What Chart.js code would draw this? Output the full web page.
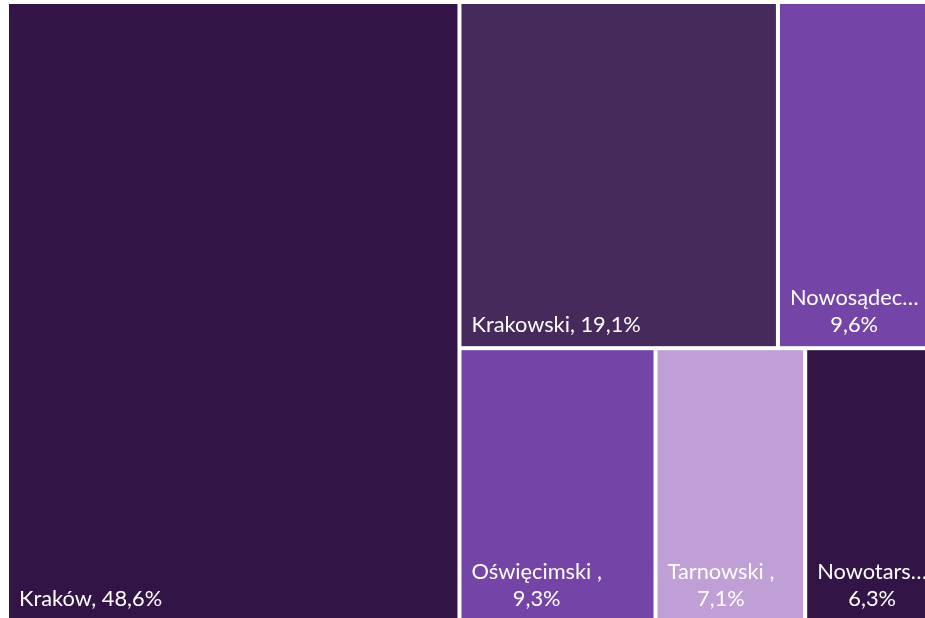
<!DOCTYPE html>
<html>
<head>
<meta charset="utf-8">
<script src="https://cdn.jsdelivr.net/npm/chart.js@4/dist/chart.umd.min.js"></script>
<style>
  html, body { margin: 0; padding: 0; overflow: hidden; background: #fff; }
  #wrap { position: absolute; left: 0; top: 0; width: 938px; height: 622px; }
</style>
</head>
<body>
<div id="wrap"><canvas id="chart" width="938" height="622"></canvas></div>
<script>
// dane z obrazka: udział powiatów (%)
const labels = ['Kraków', 'Krakowski', 'Nowosądecki', 'Oświęcimski ', 'Tarnowski ', 'Nowotarski '];
const values = [48.6, 19.1, 9.6, 9.3, 7.1, 6.3];
const colors = ['#331447', '#472a5c', '#7445a6', '#7445a6', '#bf9fd6', '#331447'];

const GAP = 2;
const PAD = 10;
const FONT = '21.8px Lato';

function avgRatio(row, side) {
  const s = row.reduce((a, b) => a + b, 0);
  const thick = s / side;
  let r = 0;
  row.forEach(a => {
    const len = a / thick;
    r += Math.max(thick / len, len / thick);
  });
  return r / row.length;
}

// prosty squarify, zwraca prostokąty w jednostkach W x H
function squarify(vals, W, H) {
  const total = vals.reduce((a, b) => a + b, 0);
  const areas = vals.map(v => v / total * W * H);
  const rects = [];
  let x0 = 0, y0 = 0, w = W, h = H, i = 0;
  while (i < areas.length) {
    const side = Math.min(w, h);
    let row = [areas[i]];
    let best = avgRatio(row, side);
    let j = i + 1;
    while (j < areas.length) {
      const cand = row.concat(areas[j]);
      const r = avgRatio(cand, side);
      if (r <= best) { row = cand; best = r; j++; } else break;
    }
    const thick = row.reduce((a, b) => a + b, 0) / side;
    if (w >= h) {
      let yy = y0;
      row.forEach(a => { const hh = a / thick; rects.push({ x: x0, y: yy, w: thick, h: hh }); yy += hh; });
      x0 += thick; w -= thick;
    } else {
      let xx = x0;
      row.forEach(a => { const ww = a / thick; rects.push({ x: xx, y: y0, w: ww, h: thick }); xx += ww; });
      y0 += thick; h -= thick;
    }
    i = j;
  }
  return rects;
}

function fmt(v) {
  return v.toFixed(1).replace('.', ',') + '%';
}

// linia z nazwą; spacja po przecinku liczy się do szerokości jak w Excelu
function firstLine(ctx, name, maxW) {
  const text = name + ',';
  if (ctx.measureText(text + ' ').width <= maxW) return text;
  let t = text;
  while (t.length > 1) {
    t = t.slice(0, -1).replace(/[\s,]+$/, '');
    if (ctx.measureText(t + '…').width <= maxW + 2) return t + '…';
  }
  return t + '…';
}

const treemapCells = {
  id: 'treemapCells',
  afterDatasetsDraw(chart) {
    const { ctx, chartArea, scales } = chart;
    const W = chartArea.width, H = chartArea.height;
    const rects = squarify(values, W, H);
    ctx.save();
    rects.forEach((r, k) => {
      const left = scales.x.getPixelForValue(r.x / W) + GAP;
      const right = scales.x.getPixelForValue((r.x + r.w) / W) - GAP;
      const top = scales.y.getPixelForValue(r.y / H) + GAP;
      const bottom = scales.y.getPixelForValue((r.y + r.h) / H) - GAP;
      ctx.fillStyle = colors[k];
      ctx.fillRect(left, top, right - left, bottom - top);

      ctx.font = FONT;
      ctx.fillStyle = '#ffffff';
      ctx.textBaseline = 'alphabetic';
      const avail = right - left - 2 * PAD;
      const full = labels[k] + ', ' + fmt(values[k]);
      const base = bottom - 14;
      if (ctx.measureText(full).width <= avail) {
        ctx.textAlign = 'left';
        ctx.fillText(full, left + PAD, base);
      } else {
        const l1 = firstLine(ctx, labels[k], avail);
        const l2 = fmt(values[k]);
        const bw = Math.max(ctx.measureText(l1).width, ctx.measureText(l2).width);
        const cx = left + PAD + bw / 2;
        ctx.textAlign = 'center';
        ctx.fillText(l1, cx, base - 27);
        ctx.fillText(l2, cx, base);
      }
    });
    ctx.restore();
  }
};

new Chart(document.getElementById('chart'), {
  type: 'scatter',
  data: { datasets: [{ data: [] }] },
  options: {
    responsive: false,
    animation: false,
    layout: { padding: { left: 7, top: 2, right: 0, bottom: 0 } },
    scales: {
      x: { type: 'linear', min: 0, max: 1, display: false },
      y: { type: 'linear', min: 0, max: 1, reverse: true, display: false }
    },
    plugins: { legend: { display: false }, tooltip: { enabled: false } }
  },
  plugins: [treemapCells]
});
</script>
</body>
</html>
